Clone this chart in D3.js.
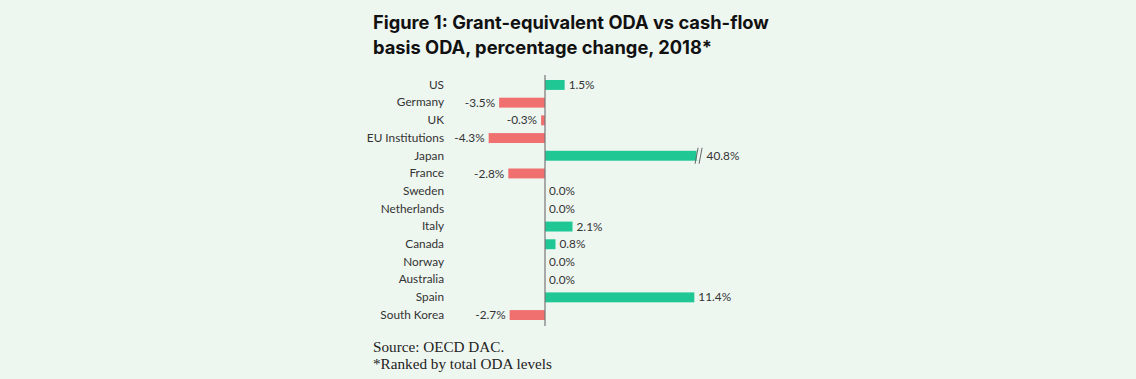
<!DOCTYPE html>
<html>
<head>
<meta charset="utf-8">
<script src="https://cdn.jsdelivr.net/npm/d3@7"></script>
<style>
    body { margin: 0; background: #eef6f0; }
    svg { display: block; }
</style>
</head>
<body>
<svg id="chart" width="1136" height="379"></svg>
<script>
// data
const countries = ["US", "Germany", "UK", "EU Institutions", "Japan", "France", "Sweden",
    "Netherlands", "Italy", "Canada", "Norway", "Australia", "Spain", "South Korea"];
const changes = [1.5, -3.5, -0.3, -4.3, 40.8, -2.8, 0.0, 0.0, 2.1, 0.8, 0.0, 0.0, 11.4, -2.7];
const titleLines = ["Figure 1: Grant-equivalent ODA vs cash-flow", "basis ODA, percentage change, 2018*"];
const notes = ["Source: OECD DAC.", "*Ranked by total ODA levels"];

const cap = 11.8; // bars above this get a break mark

const svg = d3.select("#chart");
const rows = countries.map((c, i) => ({country: c, value: changes[i]}));

const x = d3.scaleLinear()
    .domain([-5, 12.5])
    .range([545 - 5 * 13.1, 545 + 12.5 * 13.1]);

const y = d3.scaleBand()
    .domain(countries)
    .range([72.2, 327.8])
    .paddingInner(0.44)
    .paddingOuter(0.44);

// title
svg.append("g").selectAll("text")
    .data(titleLines)
    .join("text")
    .attr("x", 373)
    .attr("y", (d, i) => 29 + i * 24.5)
    .attr("font-family", "Inter")
    .attr("font-weight", 700)
    .attr("font-size", 18.3)
    .attr("fill", "#111")
    .text(d => d);

// bars
svg.append("g").selectAll("rect")
    .data(rows)
    .join("rect")
    .attr("x", d => x(Math.min(0, d.value)))
    .attr("y", d => y(d.country))
    .attr("width", d => Math.abs(x(Math.min(d.value, cap)) - x(0)))
    .attr("height", y.bandwidth())
    .attr("fill", d => d.value >= 0 ? "#1ec794" : "#f07070");

// break marks on capped bars
const broken = rows.filter(d => d.value > cap);
const bm = svg.append("g").selectAll("g")
    .data(broken)
    .join("g")
    .attr("transform", d => `translate(${x(cap)},${y(d.country) + y.bandwidth() / 2})`);
bm.append("rect")
    .attr("x", -3).attr("y", -y.bandwidth() / 2)
    .attr("width", 4).attr("height", y.bandwidth())
    .attr("fill", "#eef6f0");
bm.selectAll("line")
    .data([-3, 1])
    .join("line")
    .attr("x1", d => d - 1.5).attr("y1", 8)
    .attr("x2", d => d + 1.5).attr("y2", -8)
    .attr("stroke", "#666")
    .attr("stroke-width", 1);

// zero line
svg.append("line")
    .attr("x1", x(0)).attr("x2", x(0))
    .attr("y1", 75).attr("y2", 326)
    .attr("stroke", "#777")
    .attr("stroke-width", 1.2);

// category labels
const yAxis = d3.axisLeft(y).tickSize(0).tickPadding(0);
svg.append("g")
    .attr("transform", "translate(444,0)")
    .call(yAxis)
    .call(g => g.select(".domain").remove())
    .selectAll("text")
    .attr("font-family", "Lato")
    .attr("font-size", 11.8)
    .attr("fill", "#333");

// value labels
svg.append("g").selectAll("text")
    .data(rows)
    .join("text")
    .attr("x", d => d.value < 0 ? x(d.value) - 4 : x(Math.min(d.value, cap)) + (d.value > cap ? 7 : 4))
    .attr("y", d => y(d.country) + y.bandwidth() / 2)
    .attr("dy", "0.35em")
    .attr("text-anchor", d => d.value < 0 ? "end" : "start")
    .attr("font-family", "Lato")
    .attr("font-size", 11.8)
    .attr("fill", "#333")
    .text(d => d.value.toFixed(1) + "%");

// notes
svg.append("g").selectAll("text")
    .data(notes)
    .join("text")
    .attr("x", 373)
    .attr("y", (d, i) => 352 + i * 16.5)
    .attr("font-family", "Liberation Serif")
    .attr("font-size", 15.2)
    .attr("fill", "#222")
    .text(d => d);
</script>
</body>
</html>
